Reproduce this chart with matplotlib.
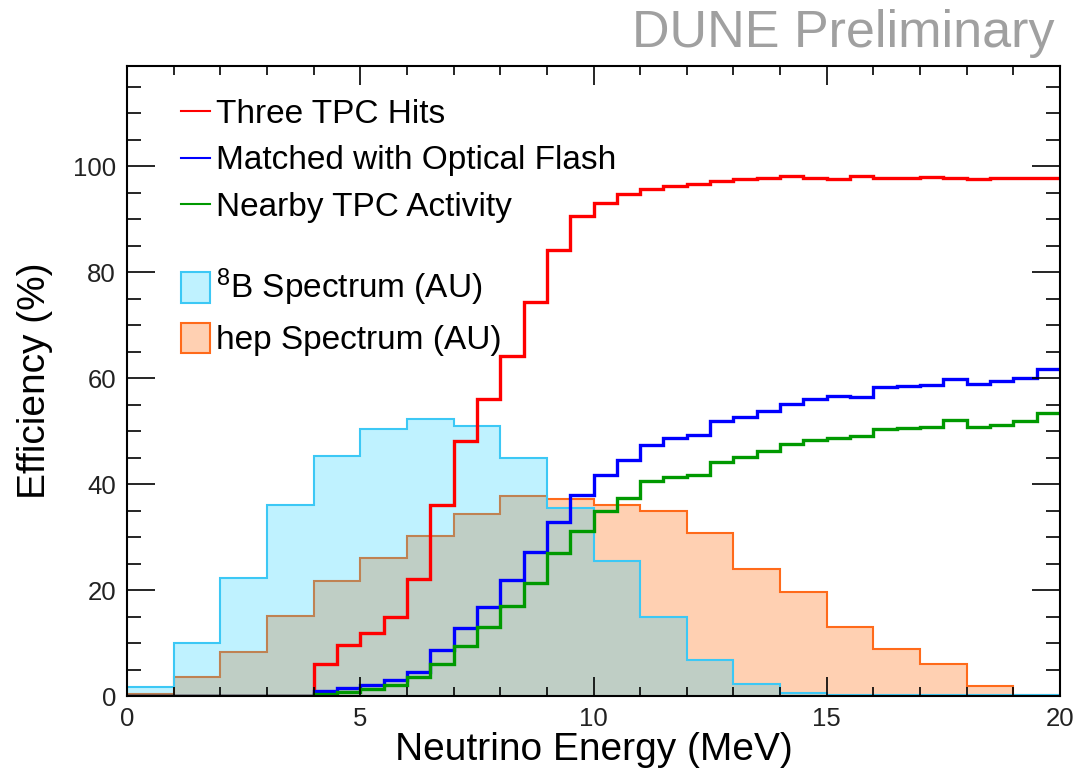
#Efficiency vs neutrino energy with solar spectra (DUNE style)
import numpy as np
import matplotlib
matplotlib.use("Agg")
from matplotlib import pyplot as plt
from matplotlib.lines import Line2D
from matplotlib.patches import Patch

plt.rcParams['font.family'] = ['Liberation Sans', 'DejaVu Sans']
plt.rcParams['mathtext.fontset'] = 'custom'
plt.rcParams['mathtext.rm'] = 'Liberation Sans'
plt.rcParams['mathtext.it'] = 'Liberation Sans'

#Spectra, 1 MeV bins from 0 to 20 (arbitrary units)
spec_edges = np.arange(0, 21, 1)
b8_spec = [1.7, 10.0, 22.2, 36.1, 45.3, 50.3, 52.2, 51.0, 44.9, 35.5,
           25.5, 15.0, 6.8, 2.3, 0.5, 0.2, 0.2, 0.2, 0.2, 0.2]
hep_spec = [0.4, 3.5, 8.3, 15.1, 21.7, 26.0, 30.2, 34.3, 37.7, 37.2,
            36.0, 35.0, 30.7, 23.9, 19.6, 13.1, 8.9, 6.0, 1.9, 0.2]

#Efficiencies (%), 0.5 MeV bins from 0 to 20
eff_edges = np.arange(0, 20.5, 0.5)
eff_three_hits = [0]*8 + [6.0, 9.6, 11.8, 14.9, 22.0, 36.0, 48.2, 56.0,
                          64.2, 74.3, 84.1, 90.6, 93.0, 94.7, 95.6, 96.2,
                          96.6, 97.2, 97.6, 97.8, 98.1, 97.7, 97.5, 98.1,
                          97.8, 97.7, 97.9, 97.8, 97.5, 97.8, 97.8, 97.8]
eff_flash = [0]*8 + [0.9, 1.6, 2.1, 3.0, 4.6, 8.7, 12.8, 16.8,
                     21.9, 27.1, 32.9, 38.0, 41.7, 44.6, 47.4, 48.7,
                     49.2, 51.9, 52.6, 53.8, 55.2, 56.0, 56.6, 56.4,
                     58.4, 58.5, 58.7, 59.8, 58.9, 59.5, 60.1, 61.8]
eff_nearby = [0]*8 + [0.4, 0.8, 1.4, 2.1, 3.5, 6.1, 9.5, 13.0,
                      17.0, 21.4, 26.9, 31.2, 35.0, 37.4, 40.6, 41.4,
                      41.7, 44.2, 45.2, 46.2, 47.5, 48.3, 48.7, 49.0,
                      50.3, 50.5, 50.7, 52.0, 50.7, 51.1, 51.9, 53.4]

line_labels = ['Three TPC Hits', 'Matched with Optical Flash', 'Nearby TPC Activity']
line_colors = ['#ff0000', '#0000ff', '#009900']
spec_labels = ['$^{8}$B Spectrum (AU)', 'hep Spectrum (AU)']

cyan = '#00ccff'
orange = '#ff6600'

fig = plt.figure(figsize=(10.76, 7.71), dpi=100)
ax = fig.add_axes([127/1076, 1-696/771, (1060-127)/1076, (696-65.5)/771])

#spectra: hep first, 8B on top (translucent)
ax.stairs(hep_spec, spec_edges, fill=True, color=orange, alpha=0.3, lw=0)
ax.stairs(hep_spec, spec_edges, baseline=None, color='#ff6a1a', lw=1.5)
ax.stairs(b8_spec, spec_edges, fill=True, color=cyan, alpha=0.25, lw=0)
ax.stairs(b8_spec, spec_edges, baseline=None, color='#3cc8f5', lw=1.5)

#efficiency curves
for vals, c in zip([eff_three_hits, eff_flash, eff_nearby], line_colors):
    ax.stairs(vals, eff_edges, baseline=None, color=c, lw=2.4)

ax.set_xlim(0, 20)
ax.set_ylim(0, 119)
ax.set_xticks([0, 5, 10, 15, 20])
ax.set_xticks(np.arange(0, 21, 1), minor=True)
ax.set_yticks([0, 20, 40, 60, 80, 100])
ax.set_yticks(np.arange(0, 120, 5), minor=True)
for s in ax.spines.values():
    s.set_linewidth(1.5)
ax.tick_params(which='both', direction='in', top=True, right=True, width=1.2,
               labelsize=18.5, labelcolor='#222222')
ax.tick_params(axis='x', which='major', length=13.5, pad=8)
ax.tick_params(axis='x', which='minor', length=6.5)
ax.tick_params(axis='y', which='major', length=20, pad=8)
ax.tick_params(axis='y', which='minor', length=10)

ax.set_xlabel('Neutrino Energy (MeV)', fontsize=28, labelpad=1)
ax.set_ylabel('Efficiency (%)', fontsize=28, labelpad=14)

h_lines = [Line2D([], [], color=c, lw=1.5) for c in line_colors]
leg1 = ax.legend(h_lines, line_labels, loc='upper left', frameon=False,
                 bbox_to_anchor=(181/1076, 1-99/771), bbox_transform=fig.transFigure,
                 fontsize=24, handlelength=0.87, handletextpad=0.18,
                 labelspacing=0.46, borderpad=0, borderaxespad=0)
ax.add_artist(leg1)
h_boxes = [Patch(facecolor=(0, 0.8, 1, 0.25), edgecolor='#3cc8f5', lw=1.5),
           Patch(facecolor=(1, 0.4, 0, 0.3), edgecolor='#ff6a1a', lw=1.5)]
leg2 = ax.legend(h_boxes, spec_labels, loc='upper left', frameon=False,
                 bbox_to_anchor=(181/1076, 1-267/771), bbox_transform=fig.transFigure,
                 fontsize=24, handlelength=0.87, handleheight=1.05, handletextpad=0.18,
                 labelspacing=0.42, borderpad=0, borderaxespad=0)

fig.text(1055/1076, 1-47/771, 'DUNE Preliminary', ha='right', va='baseline',
         fontsize=37.5, color='#a0a0a0')

fig.savefig('out.png', dpi=100)
